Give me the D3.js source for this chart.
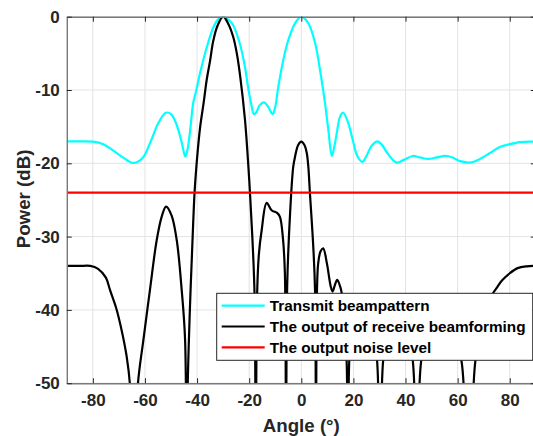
<!DOCTYPE html>
<html>
<head>
<meta charset="utf-8">
<script src="https://cdn.jsdelivr.net/npm/d3@7"></script>
<style>
  body { margin: 0; background: #fff; }
  svg { display: block; font-family: "Liberation Sans", Arial, sans-serif; }
</style>
</head>
<body>
<div id="my_dataviz"></div>
<script>

// ---------------------------//
//       DATA                 //
// ---------------------------//

// transmit beampattern (dB)
var txAngle = [-90, -85, -80, -76, -72, -68, -64.5, -61, -58, -55, -52, -50, -48, -46, -44.5, -43.5, -42.5, -41.5, -40.4, -39, -36.3, -33.8, -32, -30, -28, -26.1, -23.5, -21.6, -20.3, -19, -18.2, -17.2, -16, -14.3, -12.7, -11, -10, -8.8, -6.9, -5, -2.4, 0, 2.7, 5.3, 7.2, 9.1, 10.4, 11.7, 12.8, 13.6, 14.9, 16.1, 18, 20, 21.5, 23.4, 25, 27, 29.2, 31, 33, 36.6, 39.5, 42.8, 45.5, 48.8, 52, 55.2, 58, 61, 64.8, 68, 72.4, 76, 78.8, 84, 90];
var txPower = [-17.0, -17.0, -17.05, -17.4, -18.3, -19.3, -19.95, -19.3, -17.2, -14.6, -13.1, -13.3, -14.6, -17.0, -19.1, -17.8, -15.0, -11.8, -10.2, -7.9, -4.2, -1.5, -0.4, 0, -0.4, -1.2, -3.8, -6.9, -9.9, -12.3, -13.3, -13.0, -12.1, -11.7, -12.3, -13.3, -12.3, -9.5, -5.9, -3.2, -0.9, 0, -0.9, -3.6, -7.3, -11.8, -15.5, -19.0, -17.5, -15.9, -13.6, -13.1, -14.5, -17.2, -19.0, -19.8, -19.0, -17.6, -17.0, -17.5, -18.6, -19.9, -19.5, -19.0, -19.2, -19.4, -19.2, -19.0, -19.2, -19.7, -19.9, -19.5, -18.6, -17.8, -17.5, -17.1, -17.05];

// output of receive beamforming (dB); nulls go below the axis floor
var rxAngle = [-90, -85, -81, -78, -75, -73.4, -71, -69, -67, -65.7, -64.3, -62.8, -60.6, -58.1, -55.5, -53.6, -51.9, -49.8, -47.8, -45.9, -44.6, -44.0, -43.6, -42.5, -41.5, -40.9, -39.8, -38.8, -37.5, -36.3, -35, -33.8, -32, -30, -28, -26.1, -24.8, -23.5, -21.6, -20.3, -19.7, -18.8, -17.9, -17.5, -17.0, -16.3, -15.2, -13.3, -11.4, -9.2, -8.2, -7.1, -6.3, -5.9, -5.4, -4.3, -3.1, -2.4, -1.2, 0, 1.2, 2.1, 2.7, 3.3, 4.6, 5.3, 5.6, 6.0, 6.5, 7.4, 8.4, 9.8, 11.3, 12.0, 12.9, 13.8, 14.9, 15.5, 16.5, 17.4, 17.9, 18.4, 19.5, 22, 24.5, 27, 29.1, 30.2, 31.4, 33.5, 36.5, 40, 42.8, 44.3, 46.0, 49, 53, 57.5, 61.5, 64, 66.8, 69.5, 73.5, 75, 77, 80, 83, 86.4, 90];
var rxPower = [-34.0, -34.0, -34.0, -34.4, -35.6, -37.3, -39.8, -42.7, -46.4, -50.5, -70, -50.5, -44.1, -37.3, -30.5, -27.3, -25.9, -27.1, -30.5, -37.3, -44.1, -70, -50.5, -37.3, -28.2, -23.6, -18.5, -15.0, -11.8, -8.6, -6.0, -3.3, -1.1, 0, -1.0, -2.8, -4.9, -8.0, -14.1, -20.5, -24.0, -30.0, -38.5, -70, -38.5, -32.5, -29.1, -25.4, -26.4, -26.8, -27.3, -30.0, -35.0, -70, -36.5, -26.8, -20.5, -19.1, -17.5, -17.05, -17.5, -18.6, -20.5, -24.0, -31.4, -37.7, -70, -37.7, -33.6, -32.0, -31.6, -33.6, -36.8, -37.5, -36.6, -35.9, -36.8, -37.7, -42.0, -47.0, -70, -47.0, -42.0, -39.5, -39.0, -41.5, -47.0, -70, -47.0, -42.5, -40.5, -42.0, -47.0, -70, -47.0, -42.5, -41.0, -42.0, -47.0, -70, -47.0, -42.5, -37.8, -37.0, -36.0, -35.0, -34.3, -34.05, -34.0];

// noise level (dB)
var noiseAngle = [-90, 90];
var noisePower = [-24, -24];

var xTicks = [-80, -60, -40, -20, 0, 20, 40, 60, 80];
var yTicks = [-50, -40, -30, -20, -10, 0];

var seriesNames = ["Transmit beampattern", "The output of receive beamforming", "The output noise level"];
var seriesColors = ["#00ffff", "#000000", "#ff0000"];

// set the dimensions and margins of the graph
var W = 533, H = 436;
var margin = {top: 16.7, left: 66.8},
    width = 469,
    height = 366.5;

var svg = d3.select("#my_dataviz")
  .append("svg")
    .attr("width", W)
    .attr("height", H)
  .append("g")
    .attr("transform", "translate(" + margin.left + "," + margin.top + ")");

// ---------------------------//
//       AXIS  AND SCALE      //
// ---------------------------//

var x = d3.scaleLinear().domain([-90, 90]).range([0, width]);
var y = d3.scaleLinear().domain([-50, 0]).range([height, 0]);

var axisColor = "#262626";
// plain hyphen like the original, not the unicode minus
var fmt = d => String(d);

// grid
svg.append("g").selectAll("line").data(xTicks).join("line")
  .attr("x1", d => x(d)).attr("x2", d => x(d))
  .attr("y1", 0).attr("y2", height)
  .attr("stroke", "#e3e3e3").attr("stroke-width", 1);
svg.append("g").selectAll("line").data(yTicks).join("line")
  .attr("x1", 0).attr("x2", width)
  .attr("y1", d => y(d)).attr("y2", d => y(d))
  .attr("stroke", "#e3e3e3").attr("stroke-width", 1);

// clip the curves to the axes box
svg.append("clipPath").attr("id", "clip")
  .append("rect").attr("width", width).attr("height", height);

var plot = svg.append("g").attr("clip-path", "url(#clip)");

function pts(a, p) { return a.map((d, i) => [d, p[i]]); }

var line = d3.line()
  .x(d => x(d[0]))
  .y(d => y(d[1]))
  .curve(d3.curveCatmullRom.alpha(0.5));

var series = [pts(txAngle, txPower), pts(rxAngle, rxPower), pts(noiseAngle, noisePower)];

series.forEach((s, i) => {
  plot.append("path")
    .datum(s)
    .attr("fill", "none")
    .attr("stroke", seriesColors[i])
    .attr("stroke-width", 2.2)
    .attr("stroke-linejoin", "round")
    .attr("d", line);
});

// axes: ticks point inwards, box on
var xAxisB = d3.axisBottom(x).tickValues(xTicks).tickFormat(fmt).tickSizeInner(-5).tickSizeOuter(0).tickPadding(11);
var xAxisT = d3.axisTop(x).tickValues(xTicks).tickSizeInner(-5).tickSizeOuter(0).tickFormat("");
var yAxisL = d3.axisLeft(y).tickValues(yTicks).tickFormat(fmt).tickSizeInner(-5).tickSizeOuter(0).tickPadding(7);
var yAxisR = d3.axisRight(y).tickValues(yTicks).tickSizeInner(-5).tickSizeOuter(0).tickFormat("");

function styleAxis(g) {
  g.select(".domain").attr("stroke", "#7a7a7a").attr("stroke-width", 1.4);
  g.selectAll(".tick line").attr("stroke", axisColor);
  g.selectAll("text")
    .attr("fill", axisColor)
    .style("font-size", "17px")
    .style("font-weight", "bold");
}

svg.append("g").attr("transform", "translate(0," + height + ")").call(xAxisB).call(styleAxis);
svg.append("g").call(xAxisT).call(styleAxis);
svg.append("g").call(yAxisL).call(styleAxis);
svg.append("g").attr("transform", "translate(" + width + ",0)").call(yAxisR).call(styleAxis);

// axis labels
svg.append("text")
  .attr("x", x(0))
  .attr("y", height + 49)
  .attr("text-anchor", "middle")
  .attr("fill", axisColor)
  .style("font-size", "18.7px")
  .style("font-weight", "bold")
  .text("Angle (°)");

svg.append("text")
  .attr("transform", "translate(" + (-margin.left + 30) + "," + (height / 2 - 1) + ") rotate(-90)")
  .attr("text-anchor", "middle")
  .attr("fill", axisColor)
  .style("font-size", "18.7px")
  .style("font-weight", "bold")
  .text("Power (dB)");

// ---------------------------//
//       LEGEND               //
// ---------------------------//

var legX = 216.7 - margin.left, legY = 293.3 - margin.top;
var legW = 316, legH = 67;

var leg = svg.append("g").attr("transform", "translate(" + legX + "," + legY + ")");
leg.append("rect")
  .attr("width", legW).attr("height", legH)
  .attr("fill", "#fff")
  .attr("stroke", axisColor)
  .attr("stroke-width", 1);

leg.selectAll("line").data(seriesNames).join("line")
  .attr("x1", 5).attr("x2", 48)
  .attr("y1", (d, i) => 12.4 + i * 20.8)
  .attr("y2", (d, i) => 12.4 + i * 20.8)
  .attr("stroke", (d, i) => seriesColors[i])
  .attr("stroke-width", 2.2);

leg.selectAll("text").data(seriesNames).join("text")
  .attr("x", 53)
  .attr("y", (d, i) => 12.4 + i * 20.8)
  .attr("dy", "0.35em")
  .attr("fill", "#000")
  .style("font-size", "15.3px")
  .style("font-weight", "bold")
  .text(d => d);

</script>
</body>
</html>
